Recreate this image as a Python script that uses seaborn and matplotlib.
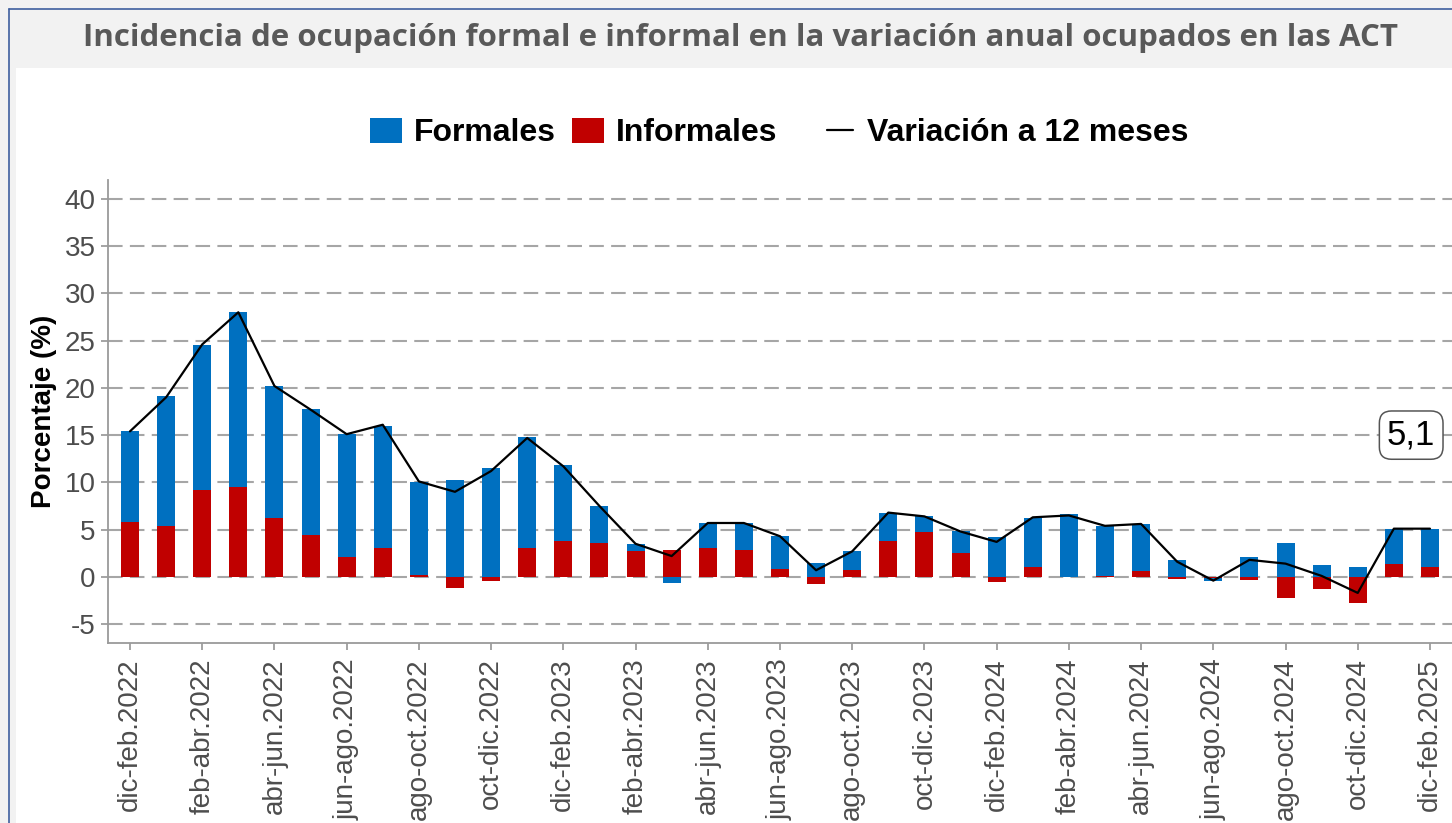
import numpy as np
import pandas as pd
import matplotlib
matplotlib.use("Agg")
import matplotlib.pyplot as plt
import seaborn as sns
from matplotlib.patches import Patch, Rectangle
from matplotlib.lines import Line2D

# ---------------- data ----------------
periodos = [
    "dic-feb.2022", "ene-mar.2022", "feb-abr.2022", "mar-may.2022", "abr-jun.2022",
    "may-jul.2022", "jun-ago.2022", "jul-sep.2022", "ago-oct.2022", "sep-nov.2022",
    "oct-dic.2022", "nov-ene.2023", "dic-feb.2023", "ene-mar.2023", "feb-abr.2023",
    "mar-may.2023", "abr-jun.2023", "may-jul.2023", "jun-ago.2023", "jul-sep.2023",
    "ago-oct.2023", "sep-nov.2023", "oct-dic.2023", "nov-ene.2024", "dic-feb.2024",
    "ene-mar.2024", "feb-abr.2024", "mar-may.2024", "abr-jun.2024", "may-jul.2024",
    "jun-ago.2024", "jul-sep.2024", "ago-oct.2024", "sep-nov.2024", "oct-dic.2024",
    "nov-ene.2025", "dic-feb.2025",
]
formales = [9.6, 13.7, 15.3, 18.5, 14.0, 13.4, 12.95, 12.9, 9.8, 10.2,
            11.5, 11.7, 8.0, 3.9, 0.76, -0.67, 2.55, 2.9, 3.5, 1.5,
            1.95, 2.95, 1.6, 2.3, 4.2, 5.2, 6.6, 5.3, 4.95, 1.77,
            -0.25, 2.08, 3.57, 1.3, 1.0, 3.65, 4.05]
informales = [5.8, 5.4, 9.2, 9.5, 6.2, 4.4, 2.15, 3.1, 0.2, -1.15,
              -0.45, 3.1, 3.8, 3.6, 2.7, 2.8, 3.1, 2.8, 0.8, -0.8,
              0.75, 3.8, 4.8, 2.55, -0.5, 1.0, -0.05, 0.1, 0.65, -0.25,
              -0.15, -0.3, -2.2, -1.25, -2.75, 1.4, 1.0]
variacion = [15.4, 19.0, 24.6, 28.0, 20.2, 17.7, 15.1, 16.1, 10.1, 9.0,
             11.2, 14.7, 11.7, 7.5, 3.5, 2.2, 5.7, 5.7, 4.3, 0.7,
             2.7, 6.8, 6.4, 4.8, 3.7, 6.3, 6.5, 5.4, 5.6, 1.6,
             -0.4, 1.8, 1.4, 0.1, -1.7, 5.1, 5.1]
etiqueta_final = "5,1"

titulo = "Incidencia de ocupación formal e informal en la variación anual ocupados en las ACT"
ylabel = "Porcentaje (%)"
yticks = [-5, 0, 5, 10, 15, 20, 25, 30, 35, 40]

AZUL = "#0070C0"
ROJO = "#C00000"

# ---------------- styling ----------------
sns.set_style("white")
plt.rcParams["font.family"] = ["Liberation Sans", "DejaVu Sans"]

W, H = 1452, 823
fig = plt.figure(figsize=(W / 100, H / 100), dpi=100)
fig.patch.set_facecolor("#f2f2f2")

# white panel + blue frame
fig.patches.append(Rectangle((16 / W, 0), 1 - 16 / W, 1 - 68 / H,
                             transform=fig.transFigure, facecolor="white",
                             edgecolor="none", zorder=-10))
fig.lines.append(Line2D([9 / W, 9 / W], [0, 1 - 9 / H], transform=fig.transFigure,
                        color="#3f5f9f", lw=1.2, zorder=-5))
fig.lines.append(Line2D([9 / W, 1], [1 - 9 / H, 1 - 9 / H], transform=fig.transFigure,
                        color="#3f5f9f", lw=1.2, zorder=-5))

fig.text(740 / W, 1 - 38 / H, titulo, ha="center", va="center",
         fontsize=22.5, fontweight="bold", color="#595959",
         family=["Open Sans", "DejaVu Sans"])

ax = fig.add_axes([108 / W, 1 - 643 / H, 1 - 108 / W, (643 - 180) / H])
ax.set_facecolor("none")

df = pd.DataFrame({"periodo": periodos, "formales": formales,
                   "informales": informales, "variacion": variacion})
# formal segment stacked on top of informal when both have same sign
mismo_signo = np.sign(df["formales"]) == np.sign(df["informales"])
df["fin_formales"] = df["formales"] + np.where(mismo_signo, df["informales"], 0.0)

sns.barplot(data=df, x="periodo", y="fin_formales", order=periodos, color=AZUL,
            saturation=1, width=0.5, linewidth=0, ax=ax, zorder=2)
sns.barplot(data=df, x="periodo", y="informales", order=periodos, color=ROJO,
            saturation=1, width=0.5, linewidth=0, ax=ax, zorder=3)
sns.lineplot(x=np.arange(len(periodos)), y=df["variacion"].values, color="black",
             lw=1.6, ax=ax, zorder=4)

ax.set_ylim(-7, 42)
ax.set_xlim(-0.609, len(periodos) - 1 + 0.61)
ax.set_yticks(yticks)
ax.set_yticklabels([str(v) for v in yticks])
pos = np.arange(0, len(periodos), 2)
ax.set_xticks(pos)
ax.set_xticklabels([periodos[i] for i in pos], rotation=90)

for y in yticks:
    ax.axhline(y, color="#a6a6a6", lw=1.5, ls=(0, (7, 3.5)), zorder=1)

ax.tick_params(axis="both", which="both", length=5, width=1.1, color="#8c8c8c",
               labelsize=20, labelcolor="#4d4d4d", bottom=True, left=True, pad=4)
ax.tick_params(axis="x", pad=6)
for s in ["top", "right"]:
    ax.spines[s].set_visible(False)
for s in ["left", "bottom"]:
    ax.spines[s].set_color("#9a9a9a")
    ax.spines[s].set_linewidth(1.3)

ax.set_xlabel("")
ax.set_ylabel(ylabel, fontsize=20, fontweight="bold", color="black")
ax.yaxis.set_label_coords(-0.038, 0.5)

# label at end
ax.text(len(periodos) - 1 - 0.52, 15.0, etiqueta_final, ha="center", va="center",
        fontsize=25, color="black",
        bbox=dict(boxstyle="round,pad=0.22,rounding_size=0.35", facecolor="white",
                  edgecolor="#555555", lw=1.1), zorder=6)

# legends
h1 = [Patch(facecolor=AZUL, edgecolor="none"), Patch(facecolor=ROJO, edgecolor="none")]
leg1 = fig.legend(h1, ["Formales", "Informales"], loc="center", ncol=2,
                  bbox_to_anchor=(574 / W, 1 - 133 / H), frameon=False,
                  prop={"size": 23, "weight": "bold"}, handlelength=1.0,
                  handleheight=0.85, handletextpad=0.38, columnspacing=0.5,
                  borderaxespad=0, borderpad=0, labelcolor="black")
h2 = [Line2D([0], [0], color="black", lw=1.6)]
leg2 = fig.legend(h2, ["Variación a 12 meses"], loc="center",
                  bbox_to_anchor=(1008 / W, 1 - 133 / H), frameon=False,
                  prop={"size": 23, "weight": "bold"}, handlelength=0.8,
                  handletextpad=0.44, borderaxespad=0, borderpad=0, labelcolor="black")

fig.savefig("out.png", dpi=100, facecolor=fig.get_facecolor())
